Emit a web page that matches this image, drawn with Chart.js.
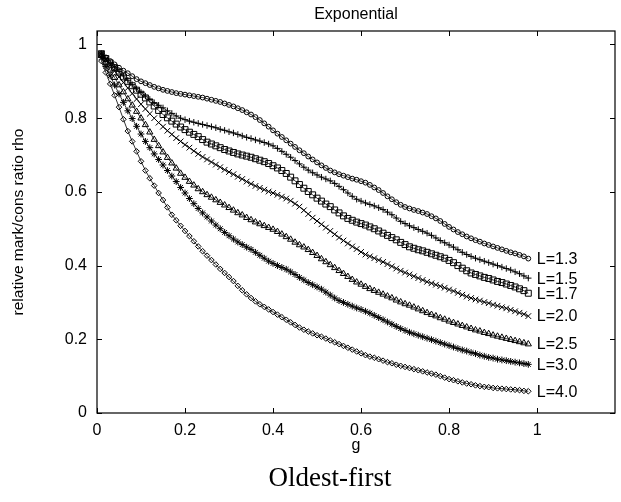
<!DOCTYPE html>
<html>
<head>
<meta charset="utf-8">
<script src="https://cdn.jsdelivr.net/npm/chart.js@4.4.1/dist/chart.umd.min.js"></script>
<style>
  html, body { margin: 0; padding: 0; background: #fff; }
  #wrap { width: 621px; height: 502px; }
</style>
</head>
<body>
<div id="wrap"><canvas id="grafico"></canvas></div>
<script>
// --- DATOS ---
const gValues = [0.01, 0.02, 0.03, 0.04, 0.05, 0.06, 0.07, 0.08, 0.09, 0.10,
                 0.11, 0.12, 0.13, 0.14, 0.15, 0.16, 0.17, 0.18, 0.19, 0.20,
                 0.21, 0.22, 0.23, 0.24, 0.25, 0.26, 0.27, 0.28, 0.29, 0.30,
                 0.31, 0.32, 0.33, 0.34, 0.35, 0.36, 0.37, 0.38, 0.39, 0.40,
                 0.41, 0.42, 0.43, 0.44, 0.45, 0.46, 0.47, 0.48, 0.49, 0.50,
                 0.51, 0.52, 0.53, 0.54, 0.55, 0.56, 0.57, 0.58, 0.59, 0.60,
                 0.61, 0.62, 0.63, 0.64, 0.65, 0.66, 0.67, 0.68, 0.69, 0.70,
                 0.71, 0.72, 0.73, 0.74, 0.75, 0.76, 0.77, 0.78, 0.79, 0.80,
                 0.81, 0.82, 0.83, 0.84, 0.85, 0.86, 0.87, 0.88, 0.89, 0.90,
                 0.91, 0.92, 0.93, 0.94, 0.95, 0.96, 0.97, 0.98];

const rhoL13 = [0.975, 0.965, 0.955, 0.946, 0.937, 0.929, 0.922, 0.914, 0.906, 0.900,
                0.895, 0.890, 0.885, 0.881, 0.877, 0.874, 0.871, 0.868, 0.866, 0.864,
                0.862, 0.860, 0.858, 0.856, 0.853, 0.850, 0.847, 0.844, 0.840, 0.836,
                0.832, 0.827, 0.822, 0.816, 0.810, 0.803, 0.795, 0.786, 0.777, 0.767,
                0.758, 0.749, 0.740, 0.731, 0.722, 0.713, 0.705, 0.696, 0.688, 0.680,
                0.672, 0.665, 0.658, 0.653, 0.648, 0.644, 0.640, 0.636, 0.633, 0.629,
                0.625, 0.619, 0.612, 0.605, 0.597, 0.588, 0.580, 0.572, 0.565, 0.559,
                0.555, 0.551, 0.548, 0.544, 0.540, 0.534, 0.528, 0.521, 0.513, 0.505,
                0.498, 0.491, 0.485, 0.479, 0.474, 0.469, 0.465, 0.460, 0.456, 0.452,
                0.448, 0.444, 0.440, 0.436, 0.433, 0.429, 0.425, 0.419];

const rhoL15 = [0.975, 0.962, 0.950, 0.938, 0.927, 0.915, 0.903, 0.891, 0.880, 0.870,
                0.860, 0.851, 0.842, 0.835, 0.828, 0.820, 0.813, 0.806, 0.800, 0.796,
                0.792, 0.789, 0.786, 0.783, 0.780, 0.777, 0.774, 0.770, 0.767, 0.763,
                0.760, 0.756, 0.752, 0.748, 0.745, 0.741, 0.738, 0.734, 0.730, 0.725,
                0.718, 0.710, 0.702, 0.694, 0.685, 0.676, 0.667, 0.659, 0.652, 0.646,
                0.640, 0.635, 0.630, 0.623, 0.615, 0.606, 0.597, 0.588, 0.580, 0.575,
                0.570, 0.566, 0.562, 0.557, 0.552, 0.545, 0.538, 0.529, 0.520, 0.514,
                0.508, 0.503, 0.498, 0.493, 0.488, 0.482, 0.475, 0.468, 0.462, 0.456,
                0.450, 0.443, 0.436, 0.430, 0.425, 0.420, 0.416, 0.412, 0.408, 0.404,
                0.400, 0.396, 0.392, 0.388, 0.383, 0.378, 0.372, 0.366];

const rhoL17 = [0.975, 0.962, 0.950, 0.937, 0.925, 0.912, 0.900, 0.888, 0.876, 0.865,
                0.855, 0.844, 0.833, 0.821, 0.810, 0.801, 0.792, 0.784, 0.776, 0.769,
                0.762, 0.756, 0.750, 0.742, 0.735, 0.730, 0.725, 0.720, 0.715, 0.711,
                0.707, 0.703, 0.700, 0.697, 0.694, 0.690, 0.686, 0.682, 0.677, 0.671,
                0.665, 0.658, 0.650, 0.640, 0.630, 0.620, 0.610, 0.601, 0.592, 0.583,
                0.575, 0.567, 0.560, 0.551, 0.543, 0.535, 0.528, 0.523, 0.518, 0.514,
                0.510, 0.505, 0.500, 0.494, 0.488, 0.482, 0.476, 0.470, 0.463, 0.457,
                0.451, 0.447, 0.443, 0.440, 0.436, 0.432, 0.428, 0.424, 0.420, 0.414,
                0.408, 0.400, 0.393, 0.386, 0.380, 0.376, 0.372, 0.368, 0.365, 0.361,
                0.357, 0.354, 0.350, 0.346, 0.342, 0.337, 0.332, 0.325];

const rhoL20 = [0.975, 0.960, 0.945, 0.928, 0.912, 0.897, 0.882, 0.867, 0.852, 0.838,
                0.825, 0.812, 0.800, 0.788, 0.777, 0.766, 0.756, 0.746, 0.737, 0.728,
                0.720, 0.711, 0.703, 0.695, 0.688, 0.681, 0.674, 0.667, 0.660, 0.654,
                0.648, 0.641, 0.635, 0.628, 0.622, 0.616, 0.611, 0.606, 0.601, 0.597,
                0.592, 0.587, 0.582, 0.576, 0.568, 0.560, 0.550, 0.540, 0.530, 0.521,
                0.512, 0.503, 0.494, 0.485, 0.476, 0.468, 0.460, 0.452, 0.445, 0.437,
                0.430, 0.425, 0.420, 0.415, 0.410, 0.404, 0.398, 0.392, 0.386, 0.381,
                0.376, 0.371, 0.366, 0.361, 0.356, 0.352, 0.348, 0.344, 0.340, 0.335,
                0.331, 0.326, 0.321, 0.316, 0.312, 0.308, 0.305, 0.301, 0.298, 0.294,
                0.291, 0.287, 0.284, 0.280, 0.276, 0.272, 0.268, 0.263];

const rhoL25 = [0.970, 0.950, 0.930, 0.910, 0.890, 0.871, 0.852, 0.835, 0.818, 0.800,
                0.782, 0.762, 0.742, 0.725, 0.708, 0.693, 0.678, 0.664, 0.650, 0.639,
                0.628, 0.618, 0.608, 0.600, 0.592, 0.585, 0.578, 0.571, 0.564, 0.557,
                0.550, 0.543, 0.537, 0.530, 0.524, 0.518, 0.513, 0.508, 0.503, 0.498,
                0.492, 0.485, 0.478, 0.471, 0.463, 0.456, 0.450, 0.443, 0.435, 0.427,
                0.418, 0.410, 0.402, 0.394, 0.386, 0.378, 0.370, 0.362, 0.355, 0.349,
                0.343, 0.337, 0.332, 0.327, 0.322, 0.317, 0.312, 0.306, 0.301, 0.296,
                0.292, 0.287, 0.282, 0.277, 0.272, 0.267, 0.263, 0.258, 0.254, 0.249,
                0.245, 0.241, 0.237, 0.233, 0.229, 0.225, 0.222, 0.218, 0.215, 0.211,
                0.208, 0.205, 0.202, 0.199, 0.196, 0.193, 0.190, 0.187];

const rhoL30 = [0.965, 0.940, 0.915, 0.890, 0.866, 0.843, 0.820, 0.799, 0.778, 0.757,
                0.737, 0.720, 0.703, 0.688, 0.673, 0.658, 0.643, 0.628, 0.612, 0.597,
                0.582, 0.568, 0.555, 0.543, 0.532, 0.521, 0.510, 0.500, 0.490, 0.481,
                0.472, 0.464, 0.457, 0.450, 0.444, 0.436, 0.428, 0.420, 0.412, 0.406,
                0.400, 0.395, 0.390, 0.383, 0.376, 0.368, 0.361, 0.354, 0.348, 0.342,
                0.336, 0.328, 0.320, 0.312, 0.305, 0.300, 0.295, 0.290, 0.285, 0.281,
                0.276, 0.271, 0.265, 0.259, 0.253, 0.247, 0.241, 0.235, 0.229, 0.224,
                0.219, 0.215, 0.211, 0.207, 0.203, 0.199, 0.195, 0.191, 0.187, 0.183,
                0.179, 0.175, 0.171, 0.168, 0.164, 0.161, 0.157, 0.154, 0.151, 0.149,
                0.146, 0.144, 0.142, 0.140, 0.138, 0.136, 0.134, 0.132];

const rhoL40 = [0.955, 0.924, 0.893, 0.862, 0.830, 0.797, 0.765, 0.737, 0.710, 0.683,
                0.658, 0.637, 0.617, 0.597, 0.578, 0.558, 0.538, 0.523, 0.508, 0.494,
                0.480, 0.466, 0.452, 0.439, 0.427, 0.415, 0.403, 0.391, 0.380, 0.369,
                0.358, 0.345, 0.333, 0.322, 0.312, 0.303, 0.295, 0.288, 0.281, 0.274,
                0.267, 0.260, 0.253, 0.246, 0.239, 0.232, 0.226, 0.221, 0.216, 0.211,
                0.207, 0.202, 0.197, 0.192, 0.187, 0.182, 0.177, 0.172, 0.167, 0.162,
                0.157, 0.153, 0.150, 0.146, 0.142, 0.138, 0.135, 0.131, 0.128, 0.125,
                0.122, 0.119, 0.116, 0.113, 0.110, 0.107, 0.104, 0.100, 0.096, 0.092,
                0.089, 0.086, 0.083, 0.080, 0.078, 0.075, 0.073, 0.071, 0.070, 0.068,
                0.067, 0.066, 0.065, 0.064, 0.063, 0.062, 0.060, 0.059];

const seriesNames = ['L=1.3', 'L=1.5', 'L=1.7', 'L=2.0', 'L=2.5', 'L=3.0', 'L=4.0'];
const seriesValues = [rhoL13, rhoL15, rhoL17, rhoL20, rhoL25, rhoL30, rhoL40];
const xTicks = [0, 0.2, 0.4, 0.6, 0.8, 1];
const xTickLabels = ['0', '0.2', '0.4', '0.6', '0.8', '1'];
const yTicks = [0, 0.2, 0.4, 0.6, 0.8, 1];
const yTickLabels = ['0', '0.2', '0.4', '0.6', '0.8', '1'];

// estilo de marcador por serie (tipo gnuplot)
const markerStyles = ['circle', 'cross', 'rect', 'crossRot', 'triangle', 'star', 'rectRot'];
const markerRadius = [2.4, 3.2, 4.2, 4.0, 3.6, 3.4, 2.8];

const FUENTE = 'Liberation Sans, Arial, sans-serif';

const datasets = seriesValues.map((vals, i) => ({
  label: seriesNames[i],
  data: gValues.map((g, j) => ({ x: g, y: vals[j] })),
  showLine: true,
  borderColor: '#000',
  borderWidth: 0.8,
  pointStyle: markerStyles[i],
  pointRadius: markerRadius[i],
  pointBorderColor: '#000',
  pointBackgroundColor: 'rgba(0,0,0,0)',
  pointBorderWidth: 1
}));

// --- PLUGIN: marco, ticks hacia dentro, etiquetas y textos ---
const marcoPlugin = {
  id: 'marco',
  afterDraw(chart) {
    const { ctx, chartArea: a, scales: { x, y } } = chart;
    ctx.save();
    ctx.strokeStyle = '#000';
    ctx.lineWidth = 1.2;
    ctx.strokeRect(a.left, a.top, a.right - a.left, a.bottom - a.top);

    ctx.lineWidth = 1;
    ctx.beginPath();
    x.ticks.forEach(t => {
      const px = Math.round(x.getPixelForValue(t.value)) + 0.5;
      ctx.moveTo(px, a.bottom); ctx.lineTo(px, a.bottom - 5);
      ctx.moveTo(px, a.top); ctx.lineTo(px, a.top + 5);
    });
    y.ticks.forEach(t => {
      const py = Math.round(y.getPixelForValue(t.value)) + 0.5;
      ctx.moveTo(a.left, py); ctx.lineTo(a.left + 5, py);
      ctx.moveTo(a.right, py); ctx.lineTo(a.right - 5, py);
    });
    ctx.stroke();

    // etiquetas al final de cada curva
    ctx.fillStyle = '#000';
    ctx.font = '16px ' + FUENTE;
    ctx.textAlign = 'left';
    ctx.textBaseline = 'middle';
    chart.data.datasets.forEach((ds, i) => {
      const pts = chart.getDatasetMeta(i).data;
      const last = pts[pts.length - 1];
      ctx.fillText(ds.label, last.x + 8.5, last.y + 1);
    });

    // titulo arriba
    ctx.textAlign = 'center';
    ctx.fillText('Exponential', (a.left + a.right) / 2, 15);

    // texto al pie
    ctx.font = '27px Liberation Serif, Times New Roman, serif';
    ctx.fillText('Oldest-first', 330, 479);
    ctx.restore();
  }
};

new Chart(document.getElementById('grafico'), {
  type: 'scatter',
  data: { datasets },
  options: {
    responsive: true,
    maintainAspectRatio: false,
    animation: false,
    devicePixelRatio: 1,
    layout: { padding: { top: 31, left: 0, right: 6, bottom: 46.7 } },
    plugins: {
      legend: { display: false },
      tooltip: { enabled: false },
      title: { display: false }
    },
    scales: {
      x: {
        type: 'linear',
        min: 0,
        max: 1.177,
        afterFit: s => { s.height = 42.3; },
        afterBuildTicks: s => { s.ticks = xTicks.map(v => ({ value: v })); },
        grid: { display: false, drawTicks: false },
        border: { display: false },
        ticks: {
          padding: 8, color: '#000', font: { family: FUENTE, size: 16 },
          callback: (v, i) => xTickLabels[i]
        },
        title: {
          display: true, text: 'g', color: '#000',
          font: { family: FUENTE, size: 16 },
          padding: { top: 0, bottom: 0 }
        }
      },
      y: {
        type: 'linear',
        min: 0,
        max: 1.0366,
        afterFit: s => { s.width = 97; },
        afterBuildTicks: s => { s.ticks = yTicks.map(v => ({ value: v })); },
        grid: { display: false, drawTicks: false },
        border: { display: false },
        ticks: {
          padding: 10, color: '#000', font: { family: FUENTE, size: 16 },
          callback: (v, i) => yTickLabels[i]
        },
        title: {
          display: true, text: 'relative mark/cons ratio rho', color: '#000',
          font: { family: FUENTE, size: 15.5 },
          padding: { top: 9.7, bottom: 0 }
        }
      }
    }
  },
  plugins: [marcoPlugin]
});
</script>
</body>
</html>
